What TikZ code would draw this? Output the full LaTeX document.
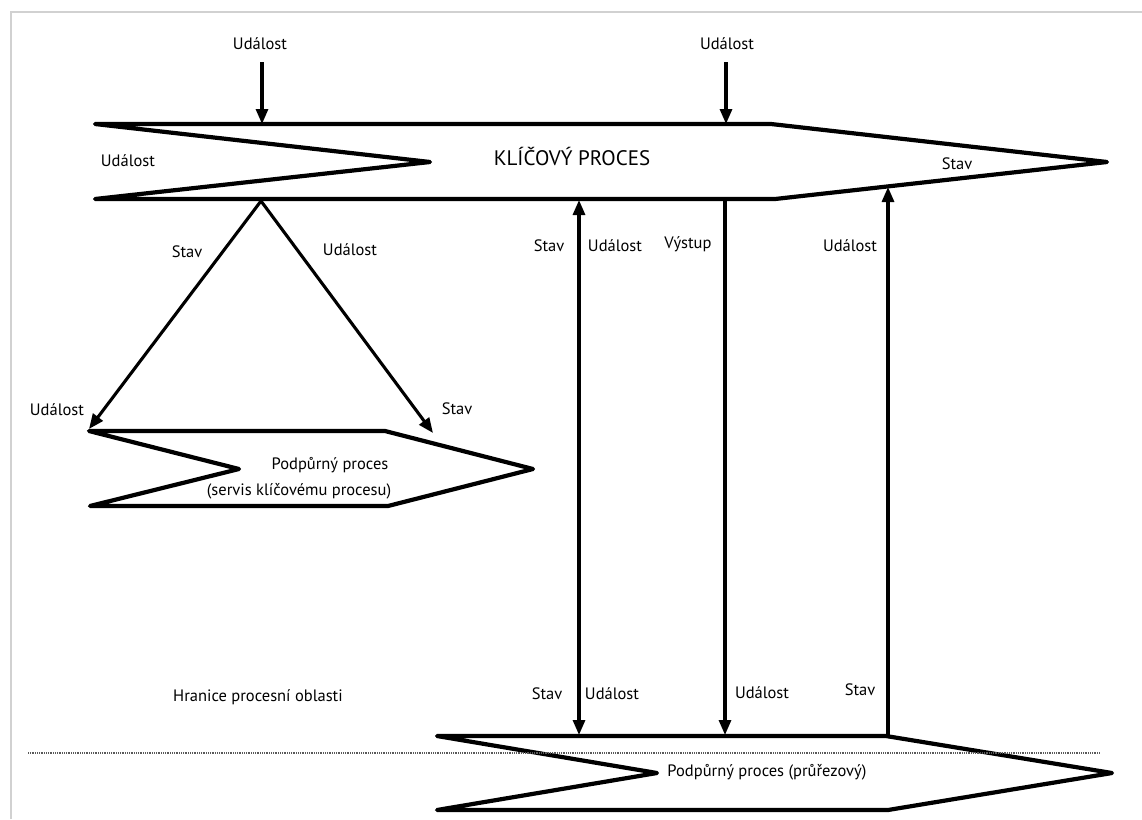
\documentclass[tikz,border=0pt]{standalone}
\usepackage{fontspec}
\setmainfont{PT Sans}
\usetikzlibrary{arrows.meta}
\begin{document}
\begin{tikzpicture}[x=1pt,y=-1pt,
  chevron/.style={draw=black, line width=4.2pt, line join=round},
  flow/.style={draw=black, line width=3.1pt, -{Triangle[width=12pt,length=15pt]}},
  twoway/.style={draw=black, line width=3.1pt, {Triangle[width=12pt,length=15pt]}-{Triangle[width=12pt,length=15pt]}},
  lbl/.style={font=\fontsize{16.5}{18}\selectfont, inner sep=0pt},
  title/.style={font=\fontsize{21}{24}\selectfont, inner sep=0pt},
  border/.style={draw=black!65, dash pattern=on 1pt off 0.8pt, line width=2.2pt},
]
\useasboundingbox (0,0) rectangle (1142,819);
\fill[white] (0,0) rectangle (1142,819);
% page edge shadow
\draw[black!18, line width=2pt] (11,819) -- (11,12) -- (1142,12);

% key process
\draw[chevron] (95,124) -- (771,124) -- (1107,162) -- (775,199) -- (95,199) -- (430,162) -- cycle;
\node[title] (key) at (572,156) {KLÍČOVÝ PROCES};
\node[lbl] (keyin) at (128,161) {Událost};
\node[lbl] (keyout) at (957,164) {Stav};

% supporting process serving the key process
\draw[chevron] (89,431) -- (385,431) -- (533,469) -- (388,506) -- (90,506) -- (239,469) -- cycle;
\node[lbl] (sup1) at (330,465) {Podpůrný proces};
\node[lbl] (sup2) at (299,491) {(servis klíčovému procesu)};

% cross-cutting supporting process
\draw[chevron] (437,736) -- (886,736) -- (1112,773) -- (888,810) -- (437,810) -- (657,773) -- cycle;
\node[lbl] (cross) at (767,772) {Podpůrný proces (průřezový)};

% process area boundary
\draw[border] (28,753) -- (1100,753);
\node[lbl] (bound) at (258,697) {Hranice procesní oblasti};

% connection points
\coordinate (e1s) at (262,62);
\coordinate (e1t) at (262,124);
\coordinate (e2s) at (726,62);
\coordinate (e2t) at (726,124);
\coordinate (apex) at (261,201);
\coordinate (supL) at (89,429);
\coordinate (supR) at (433,433);
\coordinate (v1t) at (579,200);
\coordinate (v1b) at (579,735);
\coordinate (v2t) at (725,200);
\coordinate (v2b) at (725,735);
\coordinate (v3b) at (888,735);
\coordinate (v3t) at (888,187);

% incoming events
\node[lbl] (ev1) at (260,44) {Událost};
\node[lbl] (ev2) at (727,44) {Událost};
\draw[flow] (e1s) -- (e1t);
\draw[flow] (e2s) -- (e2t);

% exchange with the serving process
\draw[flow] (apex) -- (supL);
\draw[flow] (apex) -- (supR);
\node[lbl] (l1) at (187,252) {Stav};
\node[lbl] (l2) at (350,250) {Událost};
\node[lbl] (l3) at (57,410) {Událost};
\node[lbl] (l4) at (457,409) {Stav};

% exchange with the cross-cutting process
\draw[twoway] (v1t) -- (v1b);
\draw[flow] (v2t) -- (v2b);
\draw[flow] (v3b) -- (v3t);
\node[lbl] (m1) at (549,246) {Stav};
\node[lbl] (m2) at (615,246) {Událost};
\node[lbl] (m3) at (688,244) {Výstup};
\node[lbl] (m4) at (850,246) {Událost};
\node[lbl] (n1) at (547,694) {Stav};
\node[lbl] (n2) at (612,694) {Událost};
\node[lbl] (n3) at (762,693) {Událost};
\node[lbl] (n4) at (860,690) {Stav};
\end{tikzpicture}
\end{document}
